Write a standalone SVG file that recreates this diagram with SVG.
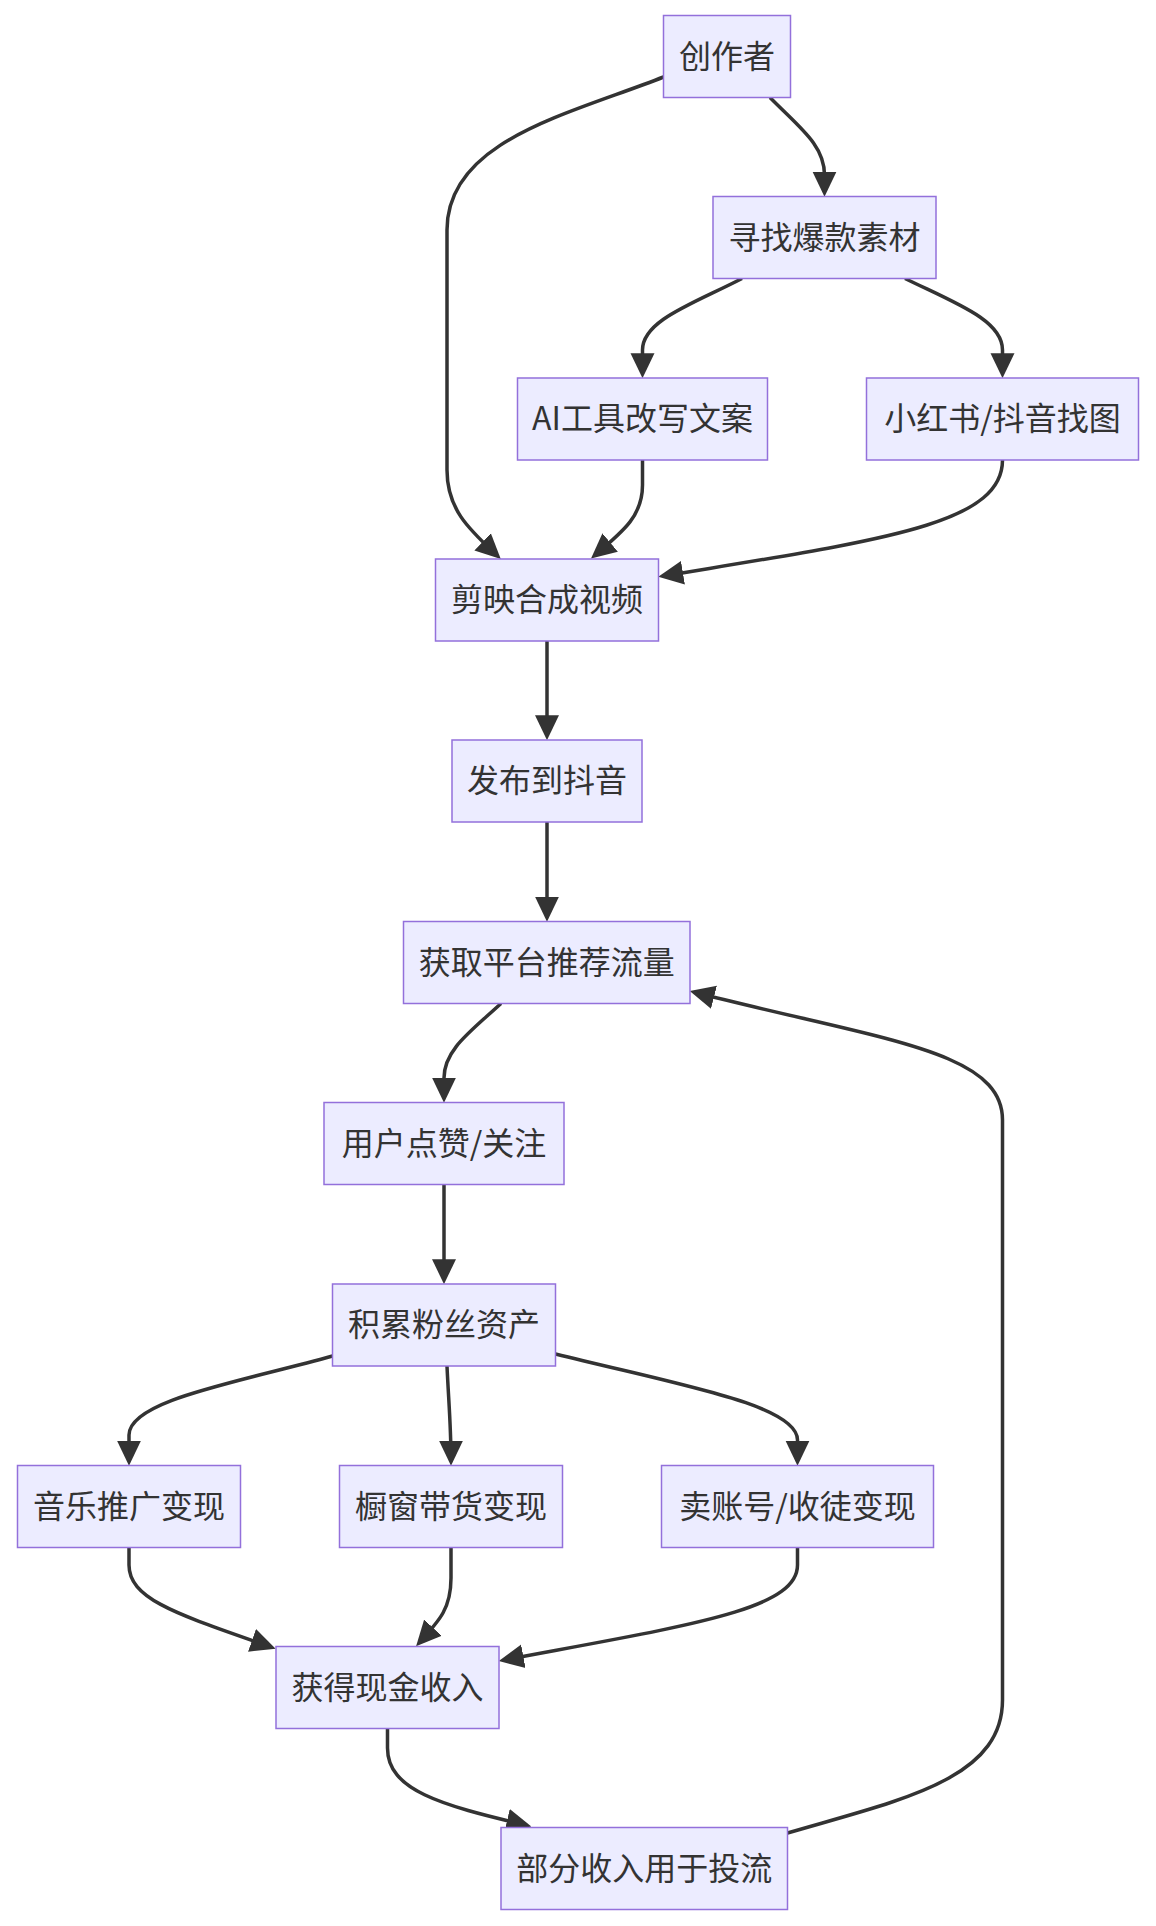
<svg xmlns="http://www.w3.org/2000/svg" width="1156" height="1926" viewBox="0 0 1156 1926">
<style>
.node rect{fill:#ECECFF;stroke:#9370DB;stroke-width:1.5}
.node text{font-family:"Noto Sans CJK SC","Noto Sans",sans-serif;font-size:32px;fill:#333333;text-anchor:middle}
.edge{fill:none;stroke:#333333;stroke-width:3.5;marker-end:url(#arrow)}
</style>
<defs>
<marker id="arrow" viewBox="0 0 24 24" refX="19" refY="12" markerWidth="25" markerHeight="25" markerUnits="userSpaceOnUse" orient="auto">
<path d="M0,0.5 L24,12 L0,23.5 z" fill="#333333"/>
</marker>
</defs>
<rect width="1156" height="1926" fill="#ffffff"/>
<g id="connectors">
<path class="edge" d="M770,97.5 C800,128 824.5,145 824.5,175 L824.5,191.5"/>
<path class="edge" d="M663.5,77 C570,114 447,140 447,230 L447,470 C447,510 470,530 497,555.5"/>
<path class="edge" d="M742,278.5 C695,303 642.5,320 642.5,350 L642.5,373"/>
<path class="edge" d="M905,278.5 C955,303 1002.5,320 1002.5,350 L1002.5,373"/>
<path class="edge" d="M642.5,460 L642.5,485 C642.5,515 625,530 595,555.2"/>
<path class="edge" d="M1002.5,460 C1002.5,525 880,540 663.4,576"/>
<path class="edge" d="M547,641 L547,735"/>
<path class="edge" d="M547,822 L547,916.5"/>
<path class="edge" d="M501,1003.5 C470,1032 444,1050 444,1078 L444,1097.5"/>
<path class="edge" d="M444,1184.5 L444,1279"/>
<path class="edge" d="M332.5,1356 C240,1382 129,1400 129,1435 L129,1460.5"/>
<path class="edge" d="M447,1366 C448.5,1400 451,1425 451,1460.5"/>
<path class="edge" d="M555.5,1354 C680,1385 797.5,1405 797.5,1440 L797.5,1460.5"/>
<path class="edge" d="M129,1547.5 L129,1565 C129,1600 180,1615 270.7,1646.9"/>
<path class="edge" d="M451,1547.5 L451,1578 C451,1608 440,1620 419.6,1642.3"/>
<path class="edge" d="M797.5,1547.5 L797.5,1565 C797.5,1610 690,1625 503.9,1660"/>
<path class="edge" d="M387.5,1728.5 L387.5,1748 C387.5,1790 440,1805 526.3,1825.2"/>
<path class="edge" d="M787.5,1833 C900,1800 1002.5,1780 1002.5,1700 L1002.5,1120 C1002.5,1050 880,1040 694.8,992.3"/>
</g>
<g id="n1" class="node"><rect x="663.5" y="15.5" width="127" height="82"/><text x="727" y="67.5">创作者</text></g>
<g id="n2" class="node"><rect x="713" y="196.5" width="223" height="82"/><text x="824.5" y="248.5">寻找爆款素材</text></g>
<g id="n3" class="node"><rect x="517.5" y="378" width="250" height="82"/><text x="642.5" y="430">AI工具改写文案</text></g>
<g id="n4" class="node"><rect x="866.5" y="378" width="272" height="82"/><text x="1002.5" y="430">小红书/抖音找图</text></g>
<g id="n5" class="node"><rect x="435.5" y="559" width="223" height="82"/><text x="547" y="611">剪映合成视频</text></g>
<g id="n6" class="node"><rect x="452" y="740" width="190" height="82"/><text x="547" y="792">发布到抖音</text></g>
<g id="n7" class="node"><rect x="403.5" y="921.5" width="286.5" height="82"/><text x="546.75" y="973.5">获取平台推荐流量</text></g>
<g id="n8" class="node"><rect x="324" y="1102.5" width="240" height="82"/><text x="444" y="1154.5">用户点赞/关注</text></g>
<g id="n9" class="node"><rect x="332.5" y="1284" width="223" height="82"/><text x="444" y="1336">积累粉丝资产</text></g>
<g id="n10" class="node"><rect x="17.5" y="1465.5" width="223" height="82"/><text x="129" y="1517.5">音乐推广变现</text></g>
<g id="n11" class="node"><rect x="339.5" y="1465.5" width="223" height="82"/><text x="451" y="1517.5">橱窗带货变现</text></g>
<g id="n12" class="node"><rect x="661.5" y="1465.5" width="272" height="82"/><text x="797.5" y="1517.5">卖账号/收徒变现</text></g>
<g id="n13" class="node"><rect x="276" y="1646.5" width="223" height="82"/><text x="387.5" y="1698.5">获得现金收入</text></g>
<g id="n14" class="node"><rect x="501" y="1827.5" width="286.5" height="82"/><text x="644.25" y="1879.5">部分收入用于投流</text></g>
</svg>
